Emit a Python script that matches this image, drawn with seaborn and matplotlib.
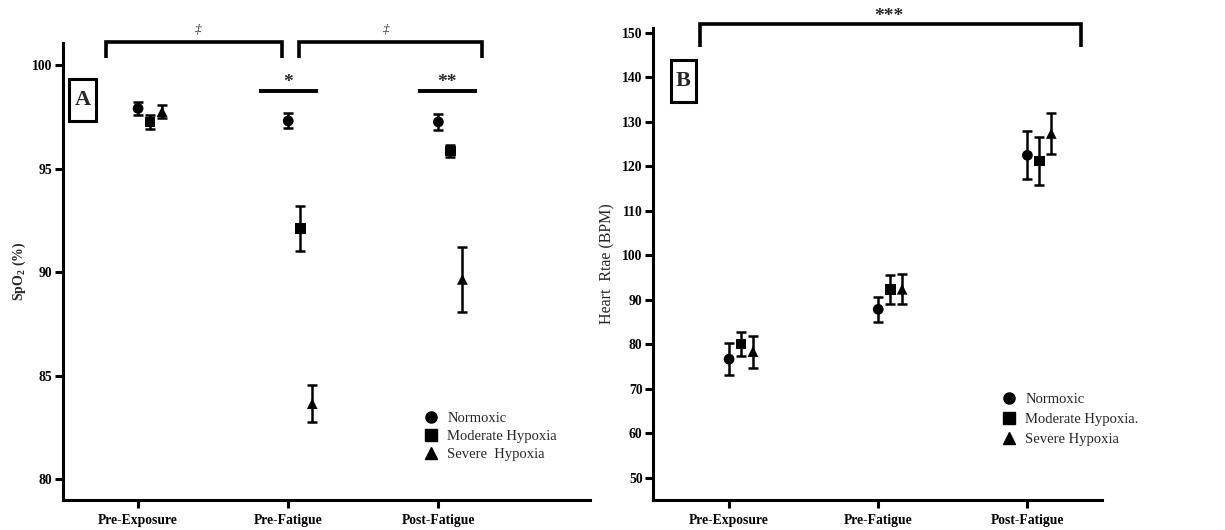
import numpy as np
import pandas as pd
import seaborn as sns
import matplotlib
matplotlib.use("Agg")
import matplotlib.pyplot as plt
from matplotlib.lines import Line2D
from matplotlib.patches import Rectangle

sns.set_theme(style="white")
plt.rcParams['font.family'] = ['Liberation Serif', 'DejaVu Serif']
plt.rcParams['mathtext.fontset'] = 'custom'
plt.rcParams['mathtext.rm'] = 'Liberation Serif'
plt.rcParams['mathtext.bf'] = 'Liberation Serif:bold'

# ---------------- data ----------------
phases = ['Pre-Exposure', 'Pre-Fatigue', 'Post-Fatigue']
groups = ['Normoxic', 'Moderate Hypoxia', 'Severe Hypoxia']
legend_a = ['Normoxic', 'Moderate Hypoxia', 'Severe  Hypoxia']
legend_b = ['Normoxic', 'Moderate Hypoxia.', 'Severe Hypoxia']

spo2_normoxic = [97.9, 97.3, 97.25]
spo2_normoxic_err = [0.30, 0.36, 0.38]
spo2_moderate = [97.25, 92.1, 95.85]
spo2_moderate_err = [0.32, 1.1, 0.30]
spo2_severe = [97.75, 83.65, 89.65]
spo2_severe_err = [0.33, 0.9, 1.57]

hr_normoxic = [76.7, 87.9, 122.5]
hr_normoxic_err = [3.6, 2.8, 5.4]
hr_moderate = [80.1, 92.4, 121.2]
hr_moderate_err = [2.8, 3.2, 5.3]
hr_severe = [78.4, 92.4, 127.4]
hr_severe_err = [3.6, 3.4, 4.6]

offsets = [0.0, 0.08, 0.16]
markers = ['o', 's', '^']


def make_df(vals, errs):
    rows = []
    for g, v, e, off in zip(groups, vals, errs, offsets):
        for i, p in enumerate(phases):
            rows.append(dict(group=g, phase=p, x=i + off, val=v[i], err=e[i]))
    return pd.DataFrame(rows)


df_a = make_df([spo2_normoxic, spo2_moderate, spo2_severe],
               [spo2_normoxic_err, spo2_moderate_err, spo2_severe_err])
df_b = make_df([hr_normoxic, hr_moderate, hr_severe],
               [hr_normoxic_err, hr_moderate_err, hr_severe_err])

W, H = 1225, 530
fig = plt.figure(figsize=(W / 100, H / 100), dpi=100)
axA = fig.add_axes([63 / W, 1 - 500 / H, (590 - 63) / W, (500 - 43) / H])
axB = fig.add_axes([653 / W, 1 - 500 / H, (1102 - 653) / W, (500 - 28) / H])

LW = 2.2
TICKFS = 9.8


def draw(ax, df):
    for g in groups:
        sub = df[df.group == g]
        ax.errorbar(sub.x, sub.val, yerr=sub.err, fmt='none', ecolor='black',
                    elinewidth=1.8, capsize=3.4, capthick=1.8, zorder=2)
    sns.scatterplot(data=df, x='x', y='val', style='group', markers=dict(zip(groups, markers)),
                    color='black', s=60, edgecolor='black', linewidth=0, legend=False, ax=ax, zorder=3)
    ax.set_xticks(range(len(phases)))
    ax.set_xticklabels(phases, fontweight='bold', fontsize=TICKFS)
    ax.set_xlabel('')
    for s in ['top', 'right']:
        ax.spines[s].set_visible(False)
    for s in ['left', 'bottom']:
        ax.spines[s].set_linewidth(LW)
        ax.spines[s].set_color('black')
    ax.tick_params(axis='both', direction='out', length=6, width=LW, color='black',
                   left=True, bottom=True, pad=1.5, labelcolor='black')
    ax.tick_params(axis='x', pad=4)
    handles = [Line2D([], [], marker=m, color='black', linestyle='none', markersize=8)
               for m in markers]
    return handles


def bold_yticks(ax):
    for lab in ax.get_yticklabels():
        lab.set_fontweight('bold')
        lab.set_fontsize(TICKFS)


hA = draw(axA, df_a)
axA.set_xlim(-0.5, 3.01)
axA.set_ylim(79.0, 101.06)
axA.set_yticks([80, 85, 90, 95, 100])
bold_yticks(axA)
axA.set_ylabel('SpO$_\\mathbf{2}$ (%)', fontweight='bold', fontsize=10, labelpad=3)

hB = draw(axB, df_b)
axB.set_xlim(-0.51, 2.5)
axB.set_ylim(45.05, 151.1)
axB.set_yticks(range(50, 151, 10))
bold_yticks(axB)
axB.set_ylabel('Heart  Rtae (BPM)', fontsize=11.5, labelpad=5)

# legends
axA.legend(hA, legend_a, loc='upper left', bbox_to_anchor=(0.346, 1 - 412 / H),
           bbox_transform=fig.transFigure, frameon=False, fontsize=10.5,
           handlelength=1.0, handletextpad=0.6, borderpad=0, labelspacing=0.33,
           borderaxespad=0)
axB.legend(hB, legend_b, loc='upper left', bbox_to_anchor=(0.818, 1 - 393 / H),
           bbox_transform=fig.transFigure, frameon=False, fontsize=10.5,
           handlelength=1.0, handletextpad=0.6, borderpad=0, labelspacing=0.45,
           borderaxespad=0)


# panel letters
def panel_letter(x0, y0, x1, y1, letter):
    fig.patches.append(Rectangle((x0 / W, 1 - y1 / H), (x1 - x0) / W, (y1 - y0) / H,
                                 transform=fig.transFigure, fill=True, fc='white',
                                 ec='black', lw=2.2, zorder=5))
    fig.text((x0 + x1) / 2 / W, 1 - (y0 + y1) / 2 / H, letter, fontsize=16, fontweight='bold',
             ha='center', va='center', zorder=6)


panel_letter(69, 79, 96, 121, 'A')
panel_letter(671, 60, 696, 102, 'B')


# significance annotations
def bracket(ax, x0, x1, ytop, ybot):
    ax.plot([x0, x0, x1, x1], [ybot, ytop, ytop, ybot], color='black', lw=LW + 0.4,
            clip_on=False, solid_joinstyle='miter', solid_capstyle='butt')


bracket(axA, -0.213, 0.96, 101.11, 100.34)
bracket(axA, 1.073, 2.293, 101.11, 100.34)
axA.text(0.40, 101.72, '‡', fontsize=9.5, style='italic', ha='center', va='center', clip_on=False)
axA.text(1.65, 101.72, '‡', fontsize=9.5, style='italic', ha='center', va='center', clip_on=False)
axA.plot([0.807, 1.2], [98.74, 98.74], color='black', lw=LW + 0.6, solid_capstyle='butt')
axA.plot([1.867, 2.26], [98.74, 98.74], color='black', lw=LW + 0.6, solid_capstyle='butt')
axA.text(1.0, 99.17, '*', fontsize=14, fontweight='bold', ha='center', va='center')
axA.text(2.06, 99.17, '**', fontsize=14, fontweight='bold', ha='center', va='center')

bracket(axB, -0.195, 2.36, 152.0, 146.9)
axB.text(1.07, 153.7, '***', fontsize=14, fontweight='bold', ha='center', va='center', clip_on=False)

fig.savefig('out.png', dpi=100)
